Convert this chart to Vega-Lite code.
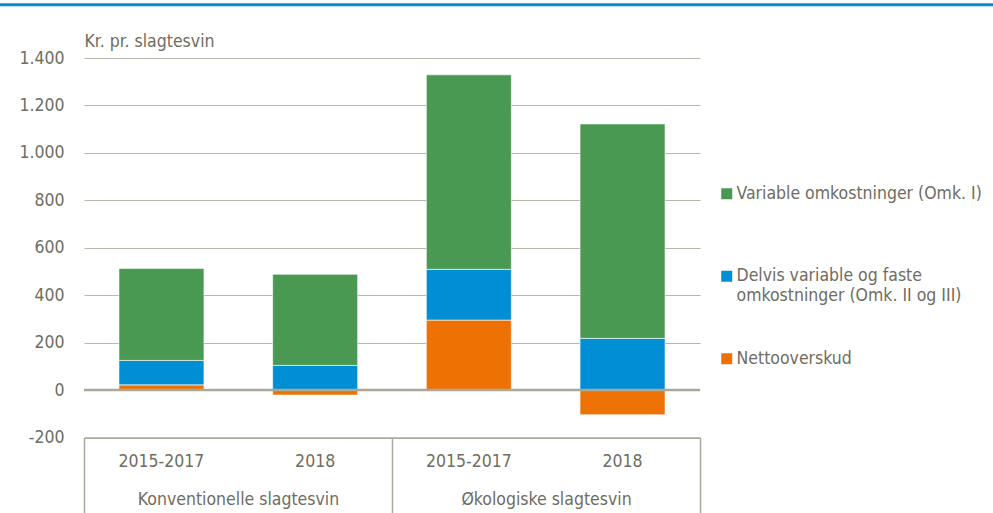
{
  "$schema": "https://vega.github.io/schema/vega-lite/v6.json",
  "width": 616,
  "height": 379.5,
  "autosize": {"type": "none"},
  "padding": {"left": 84, "top": 58, "right": 293, "bottom": 75.5},
  "background": "white",
  "config": {
    "font": "Liberation Sans Narrow, DejaVu Sans Condensed, Liberation Sans, sans-serif",
    "view": {"stroke": null},
    "axis": {"labelFont": "Liberation Sans Narrow, DejaVu Sans Condensed, Liberation Sans, sans-serif", "labelFontSize": 17.5, "labelColor": "#6e6d62", "titleFont": "Liberation Sans Narrow, DejaVu Sans Condensed, Liberation Sans, sans-serif", "titleFontSize": 17.5, "titleColor": "#6e6d62", "titleFontWeight": "normal"},
    "legend": {"labelFont": "Liberation Sans Narrow, DejaVu Sans Condensed, Liberation Sans, sans-serif", "labelFontSize": 17.5, "labelColor": "#6e6d62"}
  },
  "layer": [
    {
      "data": {"values": [
        {"bar": "Konventionelle slagtesvin|2015-2017", "series": "Nettooverskud", "value": 22},
        {"bar": "Konventionelle slagtesvin|2015-2017", "series": "Delvis variable og faste omkostninger (Omk. II og III)", "value": 103},
        {"bar": "Konventionelle slagtesvin|2015-2017", "series": "Variable omkostninger (Omk. I)", "value": 388},
        {"bar": "Konventionelle slagtesvin|2018", "series": "Nettooverskud", "value": -21},
        {"bar": "Konventionelle slagtesvin|2018", "series": "Delvis variable og faste omkostninger (Omk. II og III)", "value": 104},
        {"bar": "Konventionelle slagtesvin|2018", "series": "Variable omkostninger (Omk. I)", "value": 384},
        {"bar": "Økologiske slagtesvin|2015-2017", "series": "Nettooverskud", "value": 295},
        {"bar": "Økologiske slagtesvin|2015-2017", "series": "Delvis variable og faste omkostninger (Omk. II og III)", "value": 214},
        {"bar": "Økologiske slagtesvin|2015-2017", "series": "Variable omkostninger (Omk. I)", "value": 820},
        {"bar": "Økologiske slagtesvin|2018", "series": "Nettooverskud", "value": -104},
        {"bar": "Økologiske slagtesvin|2018", "series": "Delvis variable og faste omkostninger (Omk. II og III)", "value": 218},
        {"bar": "Økologiske slagtesvin|2018", "series": "Variable omkostninger (Omk. I)", "value": 904}
      ]},
      "transform": [
        {"calculate": "datum.series == 'Nettooverskud' ? 0 : (datum.series == 'Variable omkostninger (Omk. I)' ? 2 : 1)", "as": "stackorder"}
      ],
      "mark": {"type": "bar", "stroke": "white", "strokeWidth": 1, "strokeOpacity": 0.6},
      "encoding": {
        "x": {
          "field": "bar", "type": "nominal", "sort": null,
          "scale": {"paddingInner": 0.447, "paddingOuter": 0.2275},
          "axis": {"orient": "bottom", "title": null, "ticks": false, "domain": false, "grid": false, "labelPadding": 15, "labelAngle": 0, "labelExpr": "split(datum.label, '|')[1]"}
        },
        "y": {
          "field": "value", "type": "quantitative", "stack": "zero",
          "scale": {"domain": [-200, 1400], "nice": false, "zero": false},
          "axis": {
            "values": [-200, 0, 200, 400, 600, 800, 1000, 1200, 1400],
            "labelExpr": "replace(replace(format(datum.value, ','), ',', '.'), '\u2212', '-')",
            "grid": true, "gridColor": "#b8b6a9", "gridWidth": 1,
            "domain": false, "ticks": false, "tickSize": 0, "labelPadding": 20,
            "title": "Kr. pr. slagtesvin", "titleAngle": 0, "titleAlign": "left", "titleBaseline": "alphabetic",
            "titleX": 0, "titleY": -12
          }
        },
        "color": {
          "field": "series", "type": "nominal",
          "scale": {
            "domain": ["Variable omkostninger (Omk. I)", "Delvis variable og faste omkostninger (Omk. II og III)", "Nettooverskud"],
            "range": ["#4a9952", "#008fd5", "#ee7203"]
          },
          "legend": {
            "title": null, "orient": "none", "legendX": 634, "legendY": 127,
            "symbolType": "square", "symbolSize": 121, "symbolStrokeWidth": 0,
            "labelOffset": 1, "labelLimit": 400, "rowPadding": 44.5, "gridAlign": "all",
            "labelExpr": "datum.label == 'Delvis variable og faste omkostninger (Omk. II og III)' ? ['Delvis variable og faste', 'omkostninger (Omk. II og III)'] : datum.label"
          }
        },
        "order": {"field": "stackorder", "type": "quantitative"}
      }
    },
    {
      "data": {"values": [{"v": 0}]},
      "mark": {"type": "rule", "color": "#aaa898", "strokeWidth": 2.5},
      "encoding": {
        "y": {"field": "v", "type": "quantitative", "scale": {"domain": [-200, 1400], "nice": false, "zero": false}}
      }
    },
    {
      "data": {"values": [{"e": 0}, {"e": 0.5}, {"e": 1}]},
      "mark": {"type": "rule", "opacity": 0},
      "encoding": {
        "x": {
          "field": "e", "type": "quantitative",
          "scale": {"domain": [0, 1], "nice": false, "zero": false},
          "axis": {"orient": "bottom", "title": null, "values": [0, 0.5, 1], "labels": false, "grid": false, "domain": true, "domainColor": "#aaa898", "domainWidth": 1.5, "ticks": true, "tickSize": 80, "tickColor": "#aaa898", "tickWidth": 1.5}
        }
      }
    },
    {
      "data": {"values": [{"g": 0.25, "name": "Konventionelle slagtesvin"}, {"g": 0.75, "name": "Økologiske slagtesvin"}]},
      "mark": {"type": "rule", "opacity": 0},
      "encoding": {
        "x": {
          "field": "g", "type": "quantitative",
          "scale": {"domain": [0, 1], "nice": false, "zero": false},
          "axis": {"orient": "bottom", "title": null, "values": [0.25, 0.75], "labelExpr": "datum.value < 0.5 ? 'Konventionelle slagtesvin' : 'Økologiske slagtesvin'", "grid": false, "domain": false, "ticks": false, "labelPadding": 53, "labelFlush": false, "labelLimit": 400}
        }
      }
    },
    {
      "data": {"values": [{"x1": -0.1364, "x2": 1.476, "y": 1624}]},
      "mark": {"type": "rule", "color": "#0a8acb", "strokeWidth": 3},
      "encoding": {
        "x": {"field": "x1", "type": "quantitative", "scale": {"domain": [0, 1], "nice": false, "zero": false}, "axis": null},
        "x2": {"field": "x2"},
        "y": {"field": "y", "type": "quantitative", "scale": {"domain": [-200, 1400], "nice": false, "zero": false}}
      }
    }
  ],
  "resolve": {"scale": {"x": "independent"}, "axis": {"x": "independent"}}
}
